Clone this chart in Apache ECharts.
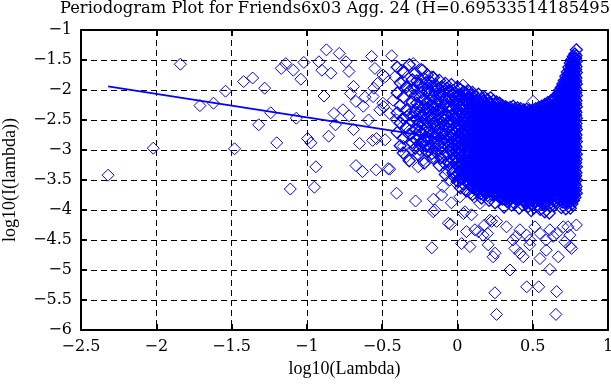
<!DOCTYPE html>
<html><head><meta charset="utf-8">
<script src="https://cdn.jsdelivr.net/npm/echarts@6/dist/echarts.min.js"></script>
<style>html,body{margin:0;padding:0;background:#fff}#c{width:611px;height:385px}</style>
</head><body><div id="c"></div>
<script>
const titleText = 'Periodogram Plot for Friends6x03 Agg. 24 (H=0.6953351418549563)';
const xName = 'log10(Lambda)';
const yName = 'log10(I(lambda))';
const xTicks = [-2.5, -2, -1.5, -1, -0.5, 0, 0.5, 1];
const yTicks = [-6, -5.5, -5, -4.5, -4, -3.5, -3, -2.5, -2, -1.5, -1];
const fitX = [-2.32, 0.79];
const fitY = [-1.94, -3.155];

// individually read points
const sparsePts = [
[-2.32,-3.42],[-2.02,-2.97],[-1.84,-1.57],[-1.71,-2.26],[-1.62,-2.22],[-1.54,-2.02],[-1.48,-2.98],[-1.42,-1.86],[-1.36,-1.8],[-1.32,-2.58],
[-1.28,-1.97],[-1.24,-2.38],[-1.2,-2.88],[-1.17,-1.64],[-1.14,-1.56],[-1.11,-3.65],[-1.09,-1.67],[-1.07,-2.47],[-1.04,-1.82],[-1.02,-1.54],
[-0.995,-2.81],[-0.973,-2.88],[-0.95,-3.62],[-0.94,-3.28],[-0.92,-1.53],[-0.9,-1.67],[-0.886,-2.1],[-0.87,-1.33],[-0.855,-2.77],[-0.84,-1.72],
[-0.82,-2.39],[-0.81,-2.58],[-0.785,-1.39],[-0.76,-2.33],[-0.74,-1.53],[-0.72,-1.69],[-0.72,-2.43],[-0.71,-2.06],[-0.69,-1.94],[-0.69,-2.66],
[-0.674,-2.19],[-0.674,-3.26],[-0.65,-2.89],[-0.63,-3.36],[-0.625,-2.27],[-0.614,-2.12],[-0.59,-2.5],[-0.57,-1.44],[-0.563,-2.84],[-0.56,-2.11],
[-0.555,-1.97],[-0.548,-1.64],[-0.54,-3.33],[-0.537,-2.81],[-0.53,-1.89],[-0.515,-2.33],[-0.495,-1.75],[-0.495,-2.22],[-0.49,-2.28],[-0.48,-1.78],
[-0.48,-2.83],[-0.46,-3.31],[-0.45,-3.32],[-0.45,-2.39],[-0.437,-1.43],[-0.426,-2.17],[-0.415,-1.78],[-0.404,-3.72],[-0.404,-2.5],[-0.37,-1.67],
[-0.36,-1.86],[-0.36,-2.94],[-0.337,-2.44],[-0.337,-3.11],[-0.315,-2.67],[-0.293,-1.56],[-0.293,-3.0],[-0.278,-3.85],[-0.27,-2.33],[-0.26,-3.28],
[-0.25,-2.78],[-0.23,-1.67],[-0.23,-1.89],[-0.227,-3.17],[-0.205,-2.61],[-0.195,-1.97],[-0.194,-2.94],[-0.17,-4.63],[-0.17,-1.78],[-0.16,-3.11],
[-0.16,-3.82],[-0.16,-4.03],[-0.15,-4.0],[-0.14,-2.17],[-0.105,-3.75],[-0.105,-1.94],[-0.095,-3.61],[-0.083,-2.0],[-0.072,-3.33],[-0.06,-4.22],
[-0.05,-3.5],[-0.045,-4.24],[-0.04,-3.88],[-0.03,-2.0],[-0.006,-3.56],
[0.017,-3.78],[0.028,-4.56],[0.037,-1.92],[0.04,-3.47],[0.04,-4.06],[0.05,-4.03],[0.06,-4.36],[0.083,-2.03],[0.083,-3.72],[0.083,-4.61],
[0.094,-4.08],[0.11,-3.78],[0.116,-4.33],[0.138,-4.36],[0.15,-3.89],[0.17,-3.75],[0.17,-4.42],[0.18,-4.25],[0.2,-4.39],[0.204,-4.58],
[0.216,-4.17],[0.227,-4.19],[0.237,-4.78],[0.25,-4.72],[0.249,-5.38],[0.26,-5.74],[0.26,-4.19],[0.326,-4.28],[0.349,-5.0],[0.37,-4.5],
[0.382,-4.64],[0.39,-4.44],[0.415,-4.33],[0.415,-4.72],[0.437,-4.78],[0.46,-5.28],[0.46,-4.42],[0.48,-4.58],[0.48,-4.5],[0.503,-2.19],
[0.515,-4.28],[0.54,-5.28],[0.548,-4.81],[0.548,-4.39],[0.59,-4.67],[0.59,-4.5],[0.614,-4.99],[0.614,-4.33],[0.636,-4.44],[0.654,-5.74],
[0.659,-5.36],[0.66,-4.39],[0.67,-4.78],[0.703,-4.28],[0.714,-4.53],[0.734,-4.28],[0.747,-4.42],[0.747,-4.61],[0.758,-4.64],[0.79,-4.25]
];

// dense part of the cloud, read column by column
const colX = [-0.40,-0.38,-0.36,-0.34,-0.32,-0.30,-0.28,-0.26,-0.24,-0.22,-0.20,-0.18,-0.16,-0.14,-0.12,-0.10,-0.08,-0.06,-0.04,-0.02,
0.00,0.01,0.02,0.03,0.04,0.05,0.06,0.07,0.08,0.09,0.10,0.11,0.12,0.13,0.14,0.15,0.16,0.17,0.18,0.19,
0.20,0.21,0.22,0.23,0.24,0.25,0.26,0.27,0.28,0.29,0.30,0.31,0.32,0.33,0.34,0.35,0.36,0.37,0.38,0.39,
0.40,0.41,0.42,0.43,0.44,0.45,0.46,0.47,0.48,0.49,0.50,0.51,0.52,0.53,0.54,0.55,0.56,0.57,0.58,0.59,
0.60,0.61,0.62,0.63,0.64,0.65,0.66,0.67,0.68,0.69,0.70,0.71,0.72,0.73,0.74,0.75,0.76,0.77,0.78,0.79];
const colY = [
[-1.62,-2.05,-2.38,-2.71],
[-1.88,-2.26,-2.55,-2.93],
[-1.70,-2.12,-2.47,-2.80,-3.05],
[-1.95,-2.33,-2.62],
[-1.58,-2.02,-2.41,-2.74,-3.18],
[-1.83,-2.20,-2.53,-2.88],
[-1.72,-2.09,-2.36,-2.66,-2.97],
[-1.90,-2.27,-2.58,-3.08],
[-1.66,-2.04,-2.44,-2.72,-2.91],
[-1.81,-2.15,-2.49,-2.83,-3.22],
[-1.75,-2.01,-2.30,-2.61,-2.79,-3.02],
[-1.86,-2.18,-2.43,-2.69,-2.95],
[-1.79,-2.10,-2.37,-2.56,-2.86,-3.14],
[-1.93,-2.24,-2.51,-2.74,-3.04],
[-1.84,-2.06,-2.32,-2.64,-2.90,-3.26],
[-1.96,-2.21,-2.46,-2.70,-2.98],
[-1.89,-2.13,-2.39,-2.59,-2.81,-3.09,-3.41],
[-2.02,-2.28,-2.52,-2.76,-2.94,-3.19],
[-1.91,-2.17,-2.42,-2.66,-2.87,-3.03,-3.30],
[-2.05,-2.25,-2.48,-2.71,-2.92,-3.12,-3.45],
[-1.95,-2.22,-2.47,-2.69,-2.88,-3.06,-3.27,-3.52],
[-2.08,-2.34,-2.58,-2.79,-2.97,-3.18,-3.40],
[-1.99,-2.27,-2.51,-2.73,-2.91,-3.12,-3.36,-3.63],
[-2.13,-2.40,-2.62,-2.84,-3.02,-3.23,-3.48],
[-2.03,-2.31,-2.55,-2.76,-2.95,-3.15,-3.31,-3.57],
[-2.18,-2.44,-2.66,-2.86,-3.08,-3.29,-3.43],
[-2.06,-2.36,-2.60,-2.81,-2.99,-3.20,-3.39,-3.68],
[-2.01,-2.24,-2.49,-2.70,-2.92,-3.11,-3.33,-3.55],
[-2.15,-2.41,-2.64,-2.85,-3.04,-3.25,-3.47],
[-2.09,-2.29,-2.53,-2.77,-2.96,-3.16,-3.37,-3.61],
[-2.04,-2.33,-2.57,-2.74,-2.93,-3.13,-3.30,-3.52,-3.74],
[-2.20,-2.45,-2.68,-2.89,-3.07,-3.27,-3.44],
[-2.11,-2.37,-2.61,-2.82,-3.00,-3.21,-3.41,-3.66],
[-2.17,-2.39,-2.59,-2.78,-2.98,-3.17,-3.35,-3.58],
[-2.07,-2.30,-2.52,-2.72,-2.91,-3.10,-3.28,-3.49,-3.71],
[-2.23,-2.46,-2.67,-2.87,-3.05,-3.24,-3.42,-3.63],
[-2.14,-2.35,-2.56,-2.75,-2.94,-3.14,-3.32,-3.54,-3.80],
[-2.19,-2.42,-2.63,-2.83,-3.01,-3.19,-3.38,-3.57],
[-2.12,-2.32,-2.50,-2.69,-2.88,-3.07,-3.26,-3.46,-3.69],
[-2.25,-2.47,-2.65,-2.84,-3.03,-3.22,-3.40,-3.60],
[-2.16,-2.38,-2.58,-2.77,-2.95,-3.12,-3.31,-3.51,-3.76],
[-2.21,-2.43,-2.62,-2.80,-2.99,-3.18,-3.36,-3.55,-3.84],
[-2.13,-2.34,-2.54,-2.73,-2.90,-3.09,-3.27,-3.45,-3.66],
[-2.27,-2.48,-2.67,-2.86,-3.04,-3.23,-3.41,-3.62],
[-2.18,-2.39,-2.59,-2.78,-2.96,-3.14,-3.33,-3.53,-3.72],
[-2.24,-2.44,-2.63,-2.81,-3.00,-3.20,-3.38,-3.58,-3.88],
[-2.20,-2.41,-2.60,-2.79,-2.97,-3.15,-3.34,-3.52,-3.70],
[-2.29,-2.50,-2.69,-2.88,-3.06,-3.24,-3.43,-3.64],
[-2.22,-2.42,-2.61,-2.80,-2.98,-3.16,-3.35,-3.54,-3.79],
[-2.31,-2.52,-2.71,-2.90,-3.08,-3.27,-3.46,-3.67],
[-2.26,-2.45,-2.64,-2.83,-3.02,-3.21,-3.39,-3.59,-3.82],
[-2.33,-2.55,-2.74,-2.92,-3.11,-3.29,-3.48,-3.69,-3.95],
[-2.28,-2.47,-2.66,-2.85,-3.03,-3.22,-3.41,-3.61,-3.78],
[-2.30,-2.51,-2.70,-2.89,-3.07,-3.25,-3.44,-3.63,-3.86],
[-2.35,-2.56,-2.75,-2.94,-3.12,-3.31,-3.50,-3.71],
[-2.29,-2.48,-2.68,-2.86,-3.05,-3.23,-3.42,-3.60,-3.81],
[-2.34,-2.53,-2.72,-2.91,-3.09,-3.28,-3.47,-3.66,-3.92],
[-2.27,-2.46,-2.65,-2.84,-3.02,-3.20,-3.38,-3.57,-3.76],
[-2.32,-2.52,-2.71,-2.90,-3.08,-3.27,-3.45,-3.65,-3.89],
[-2.36,-2.57,-2.76,-2.95,-3.14,-3.33,-3.52,-3.72],
[-2.30,-2.49,-2.68,-2.87,-3.06,-3.24,-3.43,-3.62,-3.83],
[-2.34,-2.54,-2.73,-2.92,-3.10,-3.29,-3.48,-3.68,-3.97],
[-2.31,-2.50,-2.69,-2.88,-3.07,-3.26,-3.44,-3.63,-3.80],
[-2.37,-2.58,-2.77,-2.96,-3.15,-3.34,-3.53,-3.74,-3.91],
[-2.33,-2.52,-2.71,-2.90,-3.09,-3.28,-3.46,-3.66,-3.85],
[-2.38,-2.59,-2.78,-2.97,-3.16,-3.35,-3.55,-3.76],
[-2.32,-2.51,-2.70,-2.89,-3.08,-3.27,-3.46,-3.65,-3.88],
[-2.36,-2.56,-2.75,-2.94,-3.13,-3.32,-3.51,-3.71,-3.94],
[-2.34,-2.53,-2.72,-2.91,-3.10,-3.29,-3.48,-3.67,-3.87],
[-2.39,-2.60,-2.79,-2.98,-3.17,-3.36,-3.56,-3.77,-4.01],
[-2.33,-2.52,-2.71,-2.90,-3.09,-3.28,-3.47,-3.66,-3.84],
[-2.37,-2.57,-2.76,-2.95,-3.14,-3.33,-3.52,-3.72,-3.96],
[-2.31,-2.50,-2.69,-2.88,-3.07,-3.26,-3.45,-3.64,-3.86],
[-2.35,-2.55,-2.74,-2.93,-3.12,-3.31,-3.50,-3.70,-3.92],
[-2.29,-2.48,-2.67,-2.86,-3.05,-3.24,-3.43,-3.62,-3.83],
[-2.33,-2.53,-2.72,-2.91,-3.10,-3.29,-3.48,-3.68,-3.99],
[-2.27,-2.46,-2.65,-2.84,-3.03,-3.22,-3.41,-3.60,-3.81],
[-2.30,-2.50,-2.69,-2.88,-3.07,-3.26,-3.45,-3.65,-3.90],
[-2.24,-2.43,-2.62,-2.81,-3.00,-3.19,-3.38,-3.57,-3.78,-4.03],
[-2.26,-2.46,-2.65,-2.84,-3.03,-3.22,-3.41,-3.61,-3.85],
[-2.21,-2.40,-2.59,-2.78,-2.97,-3.16,-3.35,-3.54,-3.75],
[-2.23,-2.43,-2.62,-2.81,-3.00,-3.19,-3.38,-3.58,-3.82,-4.05],
[-2.18,-2.37,-2.56,-2.75,-2.94,-3.13,-3.32,-3.51,-3.72],
[-2.20,-2.40,-2.59,-2.78,-2.97,-3.16,-3.35,-3.55,-3.79],
[-2.14,-2.33,-2.52,-2.71,-2.90,-3.09,-3.28,-3.47,-3.68,-3.93],
[-2.16,-2.36,-2.55,-2.74,-2.93,-3.12,-3.31,-3.51,-3.74],
[-2.10,-2.29,-2.48,-2.67,-2.86,-3.05,-3.24,-3.43,-3.64,-3.88],
[-2.06,-2.26,-2.45,-2.64,-2.83,-3.02,-3.21,-3.40,-3.60,-3.81],
[-2.00,-2.20,-2.39,-2.58,-2.77,-2.96,-3.15,-3.34,-3.54,-3.76],
[-1.96,-2.16,-2.35,-2.54,-2.73,-2.92,-3.11,-3.30,-3.50,-3.71,-3.96],
[-1.90,-2.10,-2.29,-2.48,-2.67,-2.86,-3.05,-3.24,-3.44,-3.65,-3.87],
[-1.84,-2.04,-2.23,-2.42,-2.61,-2.80,-2.99,-3.18,-3.38,-3.59,-3.80],
[-1.77,-1.97,-2.16,-2.35,-2.54,-2.73,-2.92,-3.11,-3.31,-3.52,-3.74,-3.98],
[-1.70,-1.90,-2.09,-2.28,-2.47,-2.66,-2.85,-3.04,-3.24,-3.45,-3.67,-3.89],
[-1.62,-1.82,-2.01,-2.20,-2.39,-2.58,-2.77,-2.96,-3.16,-3.37,-3.59,-3.82],
[-1.55,-1.74,-1.93,-2.12,-2.31,-2.50,-2.69,-2.88,-3.08,-3.29,-3.51,-3.74,-3.97],
[-1.49,-1.68,-1.87,-2.06,-2.25,-2.44,-2.63,-2.82,-3.02,-3.23,-3.45,-3.68,-3.90],
[-1.44,-1.62,-1.81,-2.00,-2.19,-2.38,-2.57,-2.76,-2.96,-3.17,-3.39,-3.62,-3.84],
[-1.40,-1.58,-1.77,-1.96,-2.15,-2.34,-2.53,-2.72,-2.92,-3.13,-3.35,-3.57,-3.79],
[-1.33,-1.52,-1.71,-1.90,-2.09,-2.28,-2.47,-2.66,-2.86,-3.07,-3.28,-3.50,-3.72]
];

// in-between columns of the dense cloud
const colX2 = [-0.29,-0.27,-0.25,-0.23,-0.21,-0.19,-0.17,-0.15,-0.13,-0.11,-0.09,-0.07,-0.05,-0.03,-0.01,
0.005,0.015,0.025,0.035,0.045,0.055,0.065,0.075,0.085,0.095,0.105,0.115,0.125,0.135,0.145,0.155,0.165,0.175,0.185,0.195,
0.205,0.215,0.225,0.235,0.245,0.255,0.265,0.275,0.285,0.295,0.305,0.315,0.325,0.335,0.345,0.355,0.365,0.375,0.385,0.395,
0.405,0.415,0.425,0.435,0.445,0.455,0.465,0.475,0.485,0.495,0.505,0.515,0.525,0.535,0.545,0.555,0.565,0.575,0.585,0.595,
0.605,0.615,0.625,0.635,0.645,0.655,0.665,0.675,0.685,0.695,0.705,0.715,0.725,0.735,0.745,0.755,0.765,0.775,0.785];
const colY2 = [
[-1.98,-2.44,-2.79],
[-1.85,-2.22,-2.50,-2.84],
[-2.12,-2.38,-2.68,-2.99],
[-1.96,-2.29,-2.56,-2.87],
[-1.88,-2.22,-2.40,-2.71,-2.93],
[-2.06,-2.33,-2.54,-2.82],
[-1.94,-2.26,-2.48,-2.74,-3.06],
[-2.02,-2.30,-2.60,-2.79,-2.97],
[-1.98,-2.19,-2.41,-2.68,-2.92],
[-2.09,-2.35,-2.57,-2.81,-3.13],
[-2.03,-2.26,-2.50,-2.73,-2.89,-3.21],
[-1.97,-2.19,-2.43,-2.63,-2.85,-3.06],
[-2.10,-2.34,-2.57,-2.79,-2.99,-3.23],
[-2.08,-2.31,-2.55,-2.76,-2.97,-3.17,-3.38],
[-2.15,-2.39,-2.61,-2.83,-3.01,-3.21],
[-2.10,-2.35,-2.58,-2.79,-2.98,-3.17,-3.39],
[-2.18,-2.44,-2.66,-2.87,-3.08,-3.29],
[-2.12,-2.39,-2.62,-2.82,-3.01,-3.24,-3.47],
[-2.25,-2.50,-2.72,-2.92,-3.12,-3.35],
[-2.16,-2.42,-2.65,-2.85,-3.05,-3.22,-3.44],
[-2.28,-2.54,-2.75,-2.96,-3.18,-3.36],
[-2.19,-2.46,-2.69,-2.89,-3.09,-3.29,-3.50],
[-2.12,-2.36,-2.59,-2.80,-3.01,-3.21,-3.43],
[-2.27,-2.52,-2.74,-2.94,-3.14,-3.36],
[-2.19,-2.42,-2.64,-2.85,-3.06,-3.26,-3.48],
[-2.17,-2.45,-2.66,-2.84,-3.03,-3.22,-3.41,-3.63],
[-2.31,-2.56,-2.78,-2.98,-3.17,-3.36,-3.55],
[-2.23,-2.48,-2.71,-2.91,-3.10,-3.31,-3.51],
[-2.28,-2.49,-2.69,-2.88,-3.08,-3.26,-3.46,-3.68],
[-2.19,-2.41,-2.62,-2.82,-3.01,-3.19,-3.38,-3.60],
[-2.33,-2.56,-2.77,-2.96,-3.14,-3.33,-3.52,-3.73],
[-2.24,-2.45,-2.66,-2.85,-3.04,-3.23,-3.43,-3.66],
[-2.30,-2.52,-2.73,-2.92,-3.10,-3.29,-3.48,-3.68],
[-2.22,-2.41,-2.60,-2.79,-2.98,-3.17,-3.36,-3.57],
[-2.35,-2.56,-2.75,-2.94,-3.13,-3.31,-3.50,-3.71],
[-2.27,-2.48,-2.68,-2.86,-3.04,-3.22,-3.41,-3.63],
[-2.32,-2.53,-2.71,-2.90,-3.09,-3.27,-3.46,-3.68],
[-2.24,-2.44,-2.64,-2.82,-3.00,-3.18,-3.36,-3.55],
[-2.37,-2.58,-2.77,-2.95,-3.14,-3.32,-3.52,-3.75],
[-2.29,-2.49,-2.69,-2.87,-3.05,-3.24,-3.43,-3.63],
[-2.34,-2.54,-2.72,-2.91,-3.10,-3.29,-3.48,-3.73],
[-2.31,-2.51,-2.70,-2.88,-3.06,-3.25,-3.43,-3.61],
[-2.39,-2.60,-2.79,-2.97,-3.15,-3.34,-3.54,-3.76],
[-2.32,-2.52,-2.71,-2.89,-3.07,-3.26,-3.45,-3.66],
[-2.41,-2.61,-2.80,-2.99,-3.18,-3.37,-3.57,-3.78],
[-2.36,-2.55,-2.74,-2.93,-3.12,-3.30,-3.49,-3.70],
[-2.44,-2.65,-2.83,-3.02,-3.20,-3.39,-3.59,-3.82],
[-2.38,-2.57,-2.76,-2.94,-3.13,-3.32,-3.51,-3.70],
[-2.40,-2.61,-2.80,-2.98,-3.16,-3.35,-3.54,-3.75],
[-2.45,-2.66,-2.85,-3.03,-3.22,-3.41,-3.61,-3.84],
[-2.39,-2.58,-2.77,-2.96,-3.14,-3.33,-3.51,-3.71],
[-2.44,-2.63,-2.82,-3.00,-3.19,-3.38,-3.57,-3.79],
[-2.37,-2.56,-2.75,-2.93,-3.11,-3.29,-3.48,-3.67],
[-2.42,-2.62,-2.81,-2.99,-3.18,-3.36,-3.55,-3.77],
[-2.46,-2.67,-2.86,-3.05,-3.24,-3.43,-3.62,-3.84],
[-2.40,-2.59,-2.78,-2.97,-3.15,-3.34,-3.53,-3.73],
[-2.44,-2.64,-2.83,-3.01,-3.20,-3.39,-3.58,-3.82],
[-2.41,-2.60,-2.79,-2.98,-3.17,-3.35,-3.54,-3.72],
[-2.47,-2.68,-2.87,-3.06,-3.25,-3.44,-3.64,-3.83],
[-2.43,-2.62,-2.81,-3.00,-3.19,-3.37,-3.56,-3.76],
[-2.48,-2.69,-2.88,-3.07,-3.26,-3.45,-3.66,-3.86],
[-2.42,-2.61,-2.80,-2.99,-3.18,-3.37,-3.56,-3.77],
[-2.46,-2.66,-2.85,-3.04,-3.23,-3.42,-3.61,-3.82],
[-2.44,-2.63,-2.82,-3.01,-3.20,-3.39,-3.58,-3.78],
[-2.49,-2.70,-2.89,-3.08,-3.27,-3.46,-3.67,-3.90],
[-2.43,-2.62,-2.81,-3.00,-3.19,-3.38,-3.57,-3.76],
[-2.47,-2.67,-2.86,-3.05,-3.24,-3.43,-3.62,-3.85],
[-2.41,-2.60,-2.79,-2.98,-3.17,-3.36,-3.55,-3.75],
[-2.45,-2.65,-2.84,-3.03,-3.22,-3.41,-3.60,-3.81],
[-2.39,-2.58,-2.77,-2.96,-3.15,-3.34,-3.53,-3.73],
[-2.43,-2.63,-2.82,-3.01,-3.20,-3.39,-3.58,-3.84],
[-2.37,-2.56,-2.75,-2.94,-3.13,-3.32,-3.51,-3.71],
[-2.40,-2.60,-2.79,-2.98,-3.17,-3.36,-3.55,-3.78],
[-2.34,-2.53,-2.72,-2.91,-3.10,-3.29,-3.48,-3.68,-3.91],
[-2.36,-2.56,-2.75,-2.94,-3.13,-3.32,-3.51,-3.73],
[-2.31,-2.50,-2.69,-2.88,-3.07,-3.26,-3.45,-3.65],
[-2.33,-2.53,-2.72,-2.91,-3.10,-3.29,-3.48,-3.70,-3.94],
[-2.28,-2.47,-2.66,-2.85,-3.04,-3.23,-3.42,-3.62],
[-2.30,-2.50,-2.69,-2.88,-3.07,-3.26,-3.45,-3.67],
[-2.24,-2.43,-2.62,-2.81,-3.00,-3.19,-3.38,-3.58,-3.81],
[-2.26,-2.46,-2.65,-2.84,-3.03,-3.22,-3.41,-3.62],
[-2.20,-2.39,-2.58,-2.77,-2.96,-3.15,-3.34,-3.54,-3.76],
[-2.16,-2.36,-2.55,-2.74,-2.93,-3.12,-3.31,-3.50,-3.71],
[-2.10,-2.30,-2.49,-2.68,-2.87,-3.06,-3.25,-3.44,-3.65],
[-2.06,-2.26,-2.45,-2.64,-2.83,-3.02,-3.21,-3.40,-3.61,-3.84],
[-2.00,-2.20,-2.39,-2.58,-2.77,-2.96,-3.15,-3.34,-3.55,-3.76],
[-1.94,-2.14,-2.33,-2.52,-2.71,-2.90,-3.09,-3.28,-3.49,-3.70],
[-1.87,-2.07,-2.26,-2.45,-2.64,-2.83,-3.02,-3.21,-3.42,-3.63,-3.86],
[-1.80,-2.00,-2.19,-2.38,-2.57,-2.76,-2.95,-3.14,-3.35,-3.56,-3.78],
[-1.72,-1.92,-2.11,-2.30,-2.49,-2.68,-2.87,-3.06,-3.27,-3.48,-3.71],
[-1.65,-1.84,-2.03,-2.22,-2.41,-2.60,-2.79,-2.98,-3.19,-3.40,-3.62,-3.85],
[-1.59,-1.78,-1.97,-2.16,-2.35,-2.54,-2.73,-2.92,-3.13,-3.34,-3.56,-3.79],
[-1.53,-1.72,-1.91,-2.10,-2.29,-2.48,-2.67,-2.86,-3.07,-3.28,-3.50,-3.73],
[-1.47,-1.66,-1.85,-2.04,-2.23,-2.42,-2.61,-2.80,-3.00,-3.21,-3.43,-3.66]
];

// third set of columns filling the solid core of the cloud
const colX3 = [0.1075,0.1175,0.1275,0.1375,0.1475,0.1575,0.1675,0.1775,0.1875,0.1975,
0.2075,0.2175,0.2275,0.2375,0.2475,0.2575,0.2675,0.2775,0.2875,0.2975,
0.3075,0.3175,0.3275,0.3375,0.3475,0.3575,0.3675,0.3775,0.3875,0.3975,
0.4075,0.4175,0.4275,0.4375,0.4475,0.4575,0.4675,0.4775,0.4875,0.4975,
0.5075,0.5175,0.5275,0.5375,0.5475,0.5575,0.5675,0.5775,0.5875,0.5975,
0.6075,0.6175,0.6275,0.6375,0.6475,0.6575,0.6675,0.6775,0.6875,0.6975,
0.7075,0.7175,0.7275,0.7375,0.7475,0.7575,0.7675,0.7775,0.7875];
const colY3 = [
[-2.26,-2.50,-2.71,-2.92,-3.12,-3.32,-3.53],
[-2.28,-2.49,-2.70,-2.90,-3.10,-3.30,-3.50],
[-2.32,-2.55,-2.76,-2.96,-3.15,-3.36,-3.57],
[-2.34,-2.54,-2.74,-2.94,-3.13,-3.31,-3.52],
[-2.30,-2.51,-2.72,-2.92,-3.11,-3.29,-3.49],
[-2.38,-2.60,-2.81,-3.00,-3.19,-3.38,-3.58],
[-2.29,-2.50,-2.71,-2.90,-3.09,-3.28,-3.48],
[-2.36,-2.57,-2.78,-2.97,-3.15,-3.34,-3.53],
[-2.27,-2.46,-2.65,-2.84,-3.03,-3.22,-3.41,-3.62],
[-2.40,-2.61,-2.80,-2.99,-3.18,-3.36,-3.55],
[-2.32,-2.53,-2.73,-2.91,-3.09,-3.27,-3.46,-3.67],
[-2.37,-2.58,-2.76,-2.95,-3.14,-3.32,-3.51],
[-2.29,-2.49,-2.69,-2.87,-3.05,-3.23,-3.41,-3.60],
[-2.42,-2.63,-2.82,-3.00,-3.19,-3.37,-3.57],
[-2.34,-2.54,-2.74,-2.92,-3.10,-3.29,-3.48,-3.68],
[-2.39,-2.59,-2.77,-2.96,-3.15,-3.34,-3.53],
[-2.36,-2.56,-2.75,-2.93,-3.11,-3.30,-3.48,-3.66],
[-2.44,-2.65,-2.84,-3.02,-3.20,-3.39,-3.59],
[-2.37,-2.57,-2.76,-2.94,-3.12,-3.31,-3.50,-3.71],
[-2.46,-2.66,-2.85,-3.04,-3.23,-3.42,-3.62],
[-2.31,-2.50,-2.69,-2.88,-3.07,-3.26,-3.44,-3.64],
[-2.39,-2.60,-2.78,-2.97,-3.15,-3.34,-3.54,-3.75],
[-2.33,-2.52,-2.71,-2.90,-3.08,-3.27,-3.46,-3.66],
[-2.45,-2.66,-2.85,-3.03,-3.21,-3.40,-3.59],
[-2.40,-2.61,-2.80,-2.98,-3.17,-3.36,-3.56,-3.77],
[-2.34,-2.53,-2.72,-2.91,-3.09,-3.28,-3.46,-3.66],
[-2.39,-2.58,-2.77,-2.96,-3.14,-3.33,-3.52,-3.73],
[-2.42,-2.61,-2.80,-2.98,-3.16,-3.34,-3.53,-3.72],
[-2.37,-2.57,-2.76,-2.94,-3.13,-3.31,-3.50,-3.71],
[-2.41,-2.62,-2.81,-3.00,-3.19,-3.38,-3.57,-3.78],
[-2.35,-2.54,-2.73,-2.92,-3.10,-3.29,-3.48,-3.68],
[-2.49,-2.69,-2.88,-3.06,-3.25,-3.44,-3.63],
[-2.36,-2.55,-2.74,-2.93,-3.12,-3.30,-3.49,-3.67],
[-2.42,-2.63,-2.82,-3.01,-3.20,-3.39,-3.59,-3.78],
[-2.38,-2.57,-2.76,-2.95,-3.14,-3.32,-3.51,-3.71],
[-2.43,-2.64,-2.83,-3.02,-3.21,-3.40,-3.61,-3.81],
[-2.47,-2.66,-2.85,-3.04,-3.23,-3.42,-3.61],
[-2.41,-2.61,-2.80,-2.99,-3.18,-3.37,-3.56,-3.77],
[-2.39,-2.58,-2.77,-2.96,-3.15,-3.34,-3.53,-3.73],
[-2.44,-2.65,-2.84,-3.03,-3.22,-3.41,-3.62,-3.84],
[-2.38,-2.57,-2.76,-2.95,-3.14,-3.33,-3.52,-3.71],
[-2.42,-2.62,-2.81,-3.00,-3.19,-3.38,-3.57,-3.79],
[-2.46,-2.65,-2.84,-3.03,-3.22,-3.41,-3.60,-3.80],
[-2.40,-2.60,-2.79,-2.98,-3.17,-3.36,-3.55,-3.76],
[-2.44,-2.63,-2.82,-3.01,-3.20,-3.39,-3.58,-3.78],
[-2.38,-2.58,-2.77,-2.96,-3.15,-3.34,-3.53,-3.79],
[-2.42,-2.61,-2.80,-2.99,-3.18,-3.37,-3.56,-3.76],
[-2.35,-2.55,-2.74,-2.93,-3.12,-3.31,-3.50,-3.73],
[-2.39,-2.58,-2.77,-2.96,-3.15,-3.34,-3.53,-3.74],
[-2.31,-2.51,-2.70,-2.89,-3.08,-3.27,-3.46,-3.68],
[-2.36,-2.55,-2.74,-2.93,-3.12,-3.31,-3.50,-3.70],
[-2.28,-2.48,-2.67,-2.86,-3.05,-3.24,-3.43,-3.64,-3.88],
[-2.33,-2.52,-2.71,-2.90,-3.09,-3.28,-3.47,-3.67],
[-2.25,-2.45,-2.64,-2.83,-3.02,-3.21,-3.40,-3.61],
[-2.29,-2.48,-2.67,-2.86,-3.05,-3.24,-3.43,-3.63,-3.86],
[-2.21,-2.41,-2.60,-2.79,-2.98,-3.17,-3.36,-3.57],
[-2.25,-2.44,-2.63,-2.82,-3.01,-3.20,-3.39,-3.59,-3.81],
[-2.11,-2.31,-2.50,-2.69,-2.88,-3.07,-3.26,-3.45,-3.66],
[-2.05,-2.25,-2.44,-2.63,-2.82,-3.01,-3.20,-3.39,-3.60],
[-2.01,-2.21,-2.40,-2.59,-2.78,-2.97,-3.16,-3.35,-3.56,-3.79],
[-1.95,-2.15,-2.34,-2.53,-2.72,-2.91,-3.10,-3.29,-3.50,-3.71],
[-1.89,-2.09,-2.28,-2.47,-2.66,-2.85,-3.04,-3.23,-3.44,-3.65],
[-1.82,-2.02,-2.21,-2.40,-2.59,-2.78,-2.97,-3.16,-3.37,-3.58,-3.81],
[-1.75,-1.95,-2.14,-2.33,-2.52,-2.71,-2.90,-3.09,-3.30,-3.51,-3.73],
[-1.67,-1.87,-2.06,-2.25,-2.44,-2.63,-2.82,-3.01,-3.22,-3.43,-3.66],
[-1.60,-1.79,-1.98,-2.17,-2.36,-2.55,-2.74,-2.93,-3.14,-3.35,-3.57,-3.80],
[-1.54,-1.73,-1.92,-2.11,-2.30,-2.49,-2.68,-2.87,-3.08,-3.29,-3.51,-3.74],
[-1.48,-1.67,-1.86,-2.05,-2.24,-2.43,-2.62,-2.81,-3.02,-3.23,-3.45,-3.68],
[-1.43,-1.61,-1.80,-1.99,-2.18,-2.37,-2.56,-2.75,-2.95,-3.16,-3.38,-3.61]
];

const densePts = [];
colX.forEach((x, i) => colY[i].forEach(y => densePts.push([x, y])));
colX2.forEach((x, i) => colY2[i].forEach(y => densePts.push([x, y])));
colX3.forEach((x, i) => colY3[i].forEach(y => densePts.push([x, y])));
const fitData = fitX.map((x, i) => [x, fitY[i]]);

const serif = 'DejaVu Serif';
const fmt = v => (v < 0 ? '\u2212' : '') + String(Math.abs(v));
const axisLineStyle = { color: '#000', width: 2 };
const gridStyle = { color: '#000', width: 1, type: [6, 4] };
const tickStyle = { show: true, inside: true, length: 6, lineStyle: { color: '#000', width: 2 } };

const chart = echarts.init(document.getElementById('c'), null, { renderer: 'canvas' });
chart.setOption({
  animation: false,
  backgroundColor: '#fff',
  title: { text: titleText, left: 60, top: 1, padding: 0,
    textStyle: { fontFamily: serif, fontSize: 16.3, fontWeight: 'normal', color: '#000' } },
  grid: { left: 81, right: 3, top: 30, bottom: 55, containLabel: false, outerBoundsMode: 'none' },
  xAxis: [
    { type: 'value', min: xTicks[0], max: xTicks[xTicks.length - 1], interval: 0.5, position: 'bottom',
      name: xName, nameLocation: 'middle', nameGap: 30,
      nameTextStyle: { fontFamily: 'Liberation Serif', fontSize: 18, color: '#000' },
      axisLine: { show: true, onZero: false, lineStyle: axisLineStyle },
      axisTick: tickStyle,
      axisLabel: { formatter: fmt, color: '#000', fontFamily: serif, fontSize: 16, margin: 9 },
      splitLine: { show: true, lineStyle: gridStyle } },
    { type: 'value', min: xTicks[0], max: xTicks[xTicks.length - 1], interval: 0.5, position: 'top',
      axisLine: { show: true, onZero: false, lineStyle: axisLineStyle },
      axisTick: tickStyle, axisLabel: { show: false }, splitLine: { show: false } }
  ],
  yAxis: [
    { type: 'value', min: yTicks[0], max: yTicks[yTicks.length - 1], interval: 0.5, position: 'left',
      name: yName, nameLocation: 'middle', nameGap: 62,
      nameTextStyle: { fontFamily: 'Liberation Serif', fontSize: 18, color: '#000' },
      axisLine: { show: true, onZero: false, lineStyle: axisLineStyle },
      axisTick: tickStyle,
      axisLabel: { formatter: fmt, color: '#000', fontFamily: serif, fontSize: 16, margin: 9 },
      splitLine: { show: true, lineStyle: gridStyle } },
    { type: 'value', min: yTicks[0], max: yTicks[yTicks.length - 1], interval: 0.5, position: 'right',
      axisLine: { show: true, onZero: false, lineStyle: axisLineStyle },
      axisTick: tickStyle, axisLabel: { show: false }, splitLine: { show: false } }
  ],
  series: [
    { type: 'scatter', data: sparsePts, symbol: 'diamond', symbolSize: 12, large: false, silent: true,
      itemStyle: { color: 'rgba(0,0,0,0)', borderColor: '#0000ff', borderWidth: 1, opacity: 1 }, z: 2 },
    { type: 'scatter', data: densePts, symbol: 'diamond', symbolSize: 12, large: false, silent: true,
      itemStyle: { color: 'rgba(0,0,0,0)', borderColor: '#0000ff', borderWidth: 1.3, opacity: 1 }, z: 2 },
    { type: 'line', data: fitData, showSymbol: false, silent: true,
      lineStyle: { color: '#0000ff', width: 1.8 }, z: 3 }
  ]
});
</script>
</body></html>
